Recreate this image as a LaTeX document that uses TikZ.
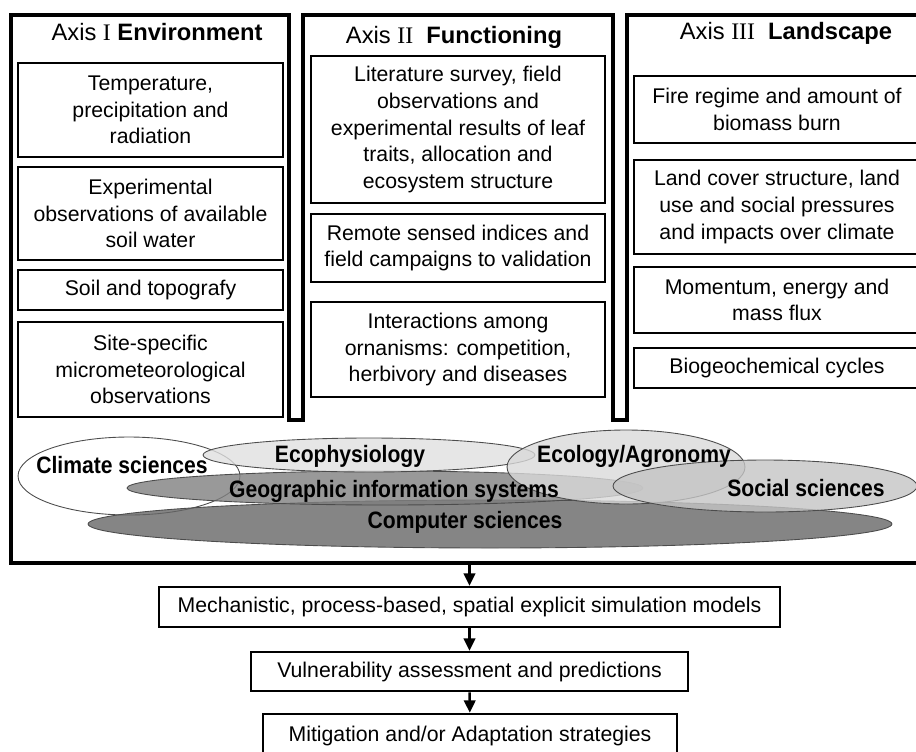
\documentclass[tikz,border=0pt]{standalone}
\usepackage{fontspec}
\setmainfont{Liberation Sans}
\newfontfamily\romfont{Liberation Serif}
\newfontfamily\ellfont[FakeStretch=0.89]{Liberation Sans}
\usetikzlibrary{arrows.meta, positioning}

\begin{document}
\begin{tikzpicture}[x=0.02cm, y=-0.02cm, >={Triangle[length=7pt, width=6.5pt]},
      font=\fontsize{12.1}{15.2}\selectfont,
      frame/.style={line width=1.8pt, line join=miter},
      box/.style={draw, line width=1.5pt, align=center, inner sep=0pt},
      ttl/.style={font=\fontsize{13.5}{16}\selectfont},
      area/.style={draw=black!70, line width=0.5pt, fill opacity=0.8},
      lbl/.style={font=\ellfont\bfseries\fontsize{13.5}{15}\selectfont}]
    \useasboundingbox (0,0) rectangle (916,751);

    \draw[frame] (11,15) -- (289,15) -- (289,420) -- (303,420) -- (303,15)
      -- (613,15) -- (613,420) -- (627,420) -- (627,15) -- (925,15)
      -- (925,563) -- (11,563) -- cycle;

    \node[ttl] (axI)   at (157,32) {Axis {\romfont I} \textbf{Environment}};
    \node[ttl] (axII)  at (454,37) {Axis {\romfont II}\ \ \textbf{Functioning}};
    \node[ttl] (axIII) at (786,33) {Axis {\romfont III}\ \ \textbf{Landscape}};

    \node[box, minimum width=5.3cm, minimum height=1.88cm] (env1) at (150.5,110)
      {Temperature,\\ precipitation and\\ radiation};
    \node[box, minimum width=5.3cm, minimum height=1.86cm] (env2) at (150.5,213.5)
      {Experimental\\ observations of available\\ soil water};
    \node[box, minimum width=5.3cm, minimum height=0.8cm] (env3) at (150.5,290)
      {Soil and topografy};
    \node[box, minimum width=5.3cm, minimum height=1.9cm] (env4) at (150.5,369.5)
      {Site-specific\\ micrometeorological\\ observations};

    \node[box, minimum width=5.88cm, minimum height=2.94cm] (fun1) at (458,129.5)
      {Literature survey, field\\ observations and\\ experimental results of leaf\\
       traits, allocation and\\ ecosystem structure};
    \node[box, minimum width=5.88cm, minimum height=1.36cm] (fun2) at (458,248)
      {Remote sensed indices and\\ field campaigns to validation};
    \node[box, minimum width=5.88cm, minimum height=1.9cm] (fun3) at (458,349.5)
      {Interactions among\\ ornanisms: competition,\\ herbivory and diseases};

    \node[box, minimum width=5.72cm, minimum height=1.34cm] (lan1) at (777,109.5)
      {Fire regime and amount of\\ biomass burn};
    \node[box, minimum width=5.72cm, minimum height=1.88cm] (lan2) at (777,207)
      {Land cover structure, land\\ use and social pressures\\ and impacts over climate};
    \node[box, minimum width=5.72cm, minimum height=1.32cm] (lan3) at (777,300)
      {Momentum, energy and\\ mass flux};
    \node[box, minimum width=5.72cm, minimum height=0.8cm] (lan4) at (777,368)
      {Biogeochemical cycles};

    \draw[area, fill=white, fill opacity=1] (129,476) ellipse [x radius=2.22cm, y radius=0.78cm];
    \draw[area, fill=black!60] (490,524) ellipse [x radius=8.04cm, y radius=0.48cm];
    \draw[area, fill=black!50] (385,488) ellipse [x radius=5.16cm, y radius=0.34cm];
    \draw[area, fill=black!12] (369,455) ellipse [x radius=3.32cm, y radius=0.34cm];
    \draw[area, fill=black!15] (626,467) ellipse [x radius=2.38cm, y radius=0.74cm];
    \draw[area, fill=black!23] (765,486) ellipse [x radius=3.04cm, y radius=0.52cm];

    \node[lbl] (clim) at (122,465) {Climate sciences};
    \node[lbl] (ecop) at (350,456) {Ecophysiology};
    \node[lbl] (ecol) at (634,456) {Ecology/Agronomy};
    \node[lbl] (gis)  at (394,491) {Geographic information systems};
    \node[lbl] (soc)  at (806,488) {Social sciences};
    \node[lbl] (comp) at (465,522) {Computer sciences};

    \node[box, minimum width=12.42cm, minimum height=0.8cm] (mech) at (469.5,607)
      {Mechanistic, process-based, spatial explicit simulation models};
    \node[box, minimum width=8.74cm, minimum height=0.78cm] (vuln) at (469.5,671.5)
      {Vulnerability assessment and predictions};
    \node[box, minimum width=8.28cm, minimum height=0.88cm] (miti) at (470,736)
      {Mitigation and/or Adaptation strategies};

    \coordinate (frm) at (469.5,563);
    \draw[->, line width=1.4pt] (frm) -- (mech);
    \draw[->, line width=1.4pt] (mech) -- (vuln);
    \draw[->, line width=1.4pt] (vuln) -- (miti);
  \end{tikzpicture}
\end{document}
